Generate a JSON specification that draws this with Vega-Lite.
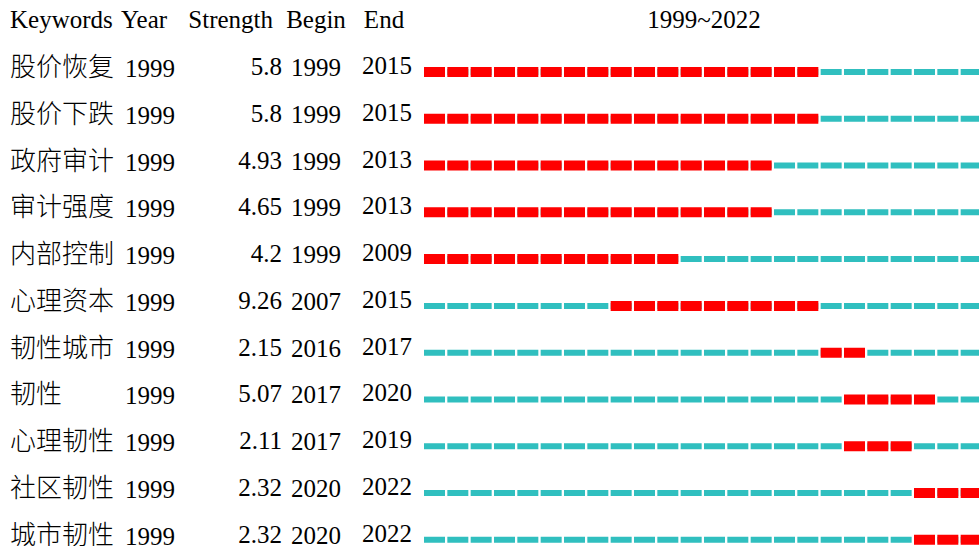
{
  "$schema": "https://vega.github.io/schema/vega-lite/v6.json",
  "padding": 0,
  "spacing": 0,
  "bounds": "flush",
  "background": "white",
  "config": {
    "view": {"stroke": null},
    "text": {"font": "Liberation Serif, Noto Sans CJK SC", "fontSize": 25, "color": "#000000"}
  },
  "datasets": {
    "rows": [
      {"Keywords": "股价恢复", "Year": 1999, "Strength": 5.8, "Begin": 1999, "End": 2015},
      {"Keywords": "股价下跌", "Year": 1999, "Strength": 5.8, "Begin": 1999, "End": 2015},
      {"Keywords": "政府审计", "Year": 1999, "Strength": 4.93, "Begin": 1999, "End": 2013},
      {"Keywords": "审计强度", "Year": 1999, "Strength": 4.65, "Begin": 1999, "End": 2013},
      {"Keywords": "内部控制", "Year": 1999, "Strength": 4.2, "Begin": 1999, "End": 2009},
      {"Keywords": "心理资本", "Year": 1999, "Strength": 9.26, "Begin": 2007, "End": 2015},
      {"Keywords": "韧性城市", "Year": 1999, "Strength": 2.15, "Begin": 2016, "End": 2017},
      {"Keywords": "韧性", "Year": 1999, "Strength": 5.07, "Begin": 2017, "End": 2020},
      {"Keywords": "心理韧性", "Year": 1999, "Strength": 2.11, "Begin": 2017, "End": 2019},
      {"Keywords": "社区韧性", "Year": 1999, "Strength": 2.32, "Begin": 2020, "End": 2022},
      {"Keywords": "城市韧性", "Year": 1999, "Strength": 2.32, "Begin": 2020, "End": 2022}
    ]
  },
  "hconcat": [
    {
      "width": 120, "height": 565,
      "layer": [
        {
          "data": {"values": [{"k": "header", "label": "Keywords"}]},
          "mark": {"type": "text", "align": "left", "baseline": "middle", "dy": -5},
          "encoding": {
            "x": {"value": 10},
            "y": {"field": "k", "type": "nominal", "axis": null, "scale": {"type": "point", "padding": 0.5385, "domain": ["header", "股价恢复", "股价下跌", "政府审计", "审计强度", "内部控制", "心理资本", "韧性城市", "韧性", "心理韧性", "社区韧性", "城市韧性"]}},
            "text": {"field": "label", "type": "nominal"}
          }
        },
        {
          "data": {"name": "rows"},
          "mark": {"type": "text", "align": "left", "baseline": "middle", "dy": -4, "fontSize": 26, "fontWeight": 300},
          "encoding": {
            "x": {"value": 10},
            "y": {"field": "Keywords", "type": "nominal", "axis": null},
            "text": {"field": "Keywords", "type": "nominal"}
          }
        }
      ]
    },
    {
      "width": 70, "height": 565,
      "layer": [
        {
          "data": {"values": [{"k": "header", "label": "Year"}]},
          "mark": {"type": "text", "align": "left", "baseline": "middle", "dy": -5},
          "encoding": {
            "x": {"value": 1},
            "y": {"field": "k", "type": "nominal", "axis": null, "scale": {"type": "point", "padding": 0.5385, "domain": ["header", "股价恢复", "股价下跌", "政府审计", "审计强度", "内部控制", "心理资本", "韧性城市", "韧性", "心理韧性", "社区韧性", "城市韧性"]}},
            "text": {"field": "label", "type": "nominal"}
          }
        },
        {
          "data": {"name": "rows"},
          "mark": {"type": "text", "align": "left", "baseline": "middle", "dy": -3},
          "encoding": {
            "x": {"value": 5},
            "y": {"field": "Keywords", "type": "nominal", "axis": null},
            "text": {"field": "Year", "type": "nominal"}
          }
        }
      ]
    },
    {
      "width": 92, "height": 565,
      "layer": [
        {
          "data": {"values": [{"k": "header", "label": "Strength"}]},
          "mark": {"type": "text", "align": "right", "baseline": "middle", "dy": -5},
          "encoding": {
            "x": {"value": 83},
            "y": {"field": "k", "type": "nominal", "axis": null, "scale": {"type": "point", "padding": 0.5385, "domain": ["header", "股价恢复", "股价下跌", "政府审计", "审计强度", "内部控制", "心理资本", "韧性城市", "韧性", "心理韧性", "社区韧性", "城市韧性"]}},
            "text": {"field": "label", "type": "nominal"}
          }
        },
        {
          "data": {"name": "rows"},
          "mark": {"type": "text", "align": "right", "baseline": "middle", "dy": -5},
          "encoding": {
            "x": {"value": 92},
            "y": {"field": "Keywords", "type": "nominal", "axis": null},
            "text": {"field": "Strength", "type": "nominal"}
          }
        }
      ]
    },
    {
      "width": 68, "height": 565,
      "layer": [
        {
          "data": {"values": [{"k": "header", "label": "Begin"}]},
          "mark": {"type": "text", "align": "center", "baseline": "middle", "dy": -5},
          "encoding": {
            "y": {"field": "k", "type": "nominal", "axis": null, "scale": {"type": "point", "padding": 0.5385, "domain": ["header", "股价恢复", "股价下跌", "政府审计", "审计强度", "内部控制", "心理资本", "韧性城市", "韧性", "心理韧性", "社区韧性", "城市韧性"]}},
            "text": {"field": "label", "type": "nominal"}
          }
        },
        {
          "data": {"name": "rows"},
          "mark": {"type": "text", "align": "center", "baseline": "middle", "dy": -4},
          "encoding": {
            "y": {"field": "Keywords", "type": "nominal", "axis": null},
            "text": {"field": "Begin", "type": "nominal"}
          }
        }
      ]
    },
    {
      "width": 74, "height": 565,
      "layer": [
        {
          "data": {"values": [{"k": "header", "label": "End"}]},
          "mark": {"type": "text", "align": "center", "baseline": "middle", "dy": -5, "dx": -3},
          "encoding": {
            "y": {"field": "k", "type": "nominal", "axis": null, "scale": {"type": "point", "padding": 0.5385, "domain": ["header", "股价恢复", "股价下跌", "政府审计", "审计强度", "内部控制", "心理资本", "韧性城市", "韧性", "心理韧性", "社区韧性", "城市韧性"]}},
            "text": {"field": "label", "type": "nominal"}
          }
        },
        {
          "data": {"name": "rows"},
          "mark": {"type": "text", "align": "center", "baseline": "middle", "dy": -6},
          "encoding": {
            "y": {"field": "Keywords", "type": "nominal", "axis": null},
            "text": {"field": "End", "type": "nominal"}
          }
        }
      ]
    },
    {
      "width": 560, "height": 565,
      "layer": [
        {
          "data": {"values": [{"k": "header", "label": "1999~2022"}]},
          "mark": {"type": "text", "align": "center", "baseline": "middle", "dy": -5},
          "encoding": {
            "y": {"field": "k", "type": "nominal", "axis": null, "scale": {"type": "point", "padding": 0.5385, "domain": ["header", "股价恢复", "股价下跌", "政府审计", "审计强度", "内部控制", "心理资本", "韧性城市", "韧性", "心理韧性", "社区韧性", "城市韧性"]}},
            "text": {"field": "label", "type": "nominal"}
          }
        },
        {
          "data": {"name": "rows"},
          "mark": {"type": "rule", "color": "#30bfbf", "strokeWidth": 6, "strokeDash": [21, 2.3333], "x2Offset": 23.3333},
          "encoding": {
            "x": {"field": "Year", "type": "quantitative", "axis": null, "scale": {"domain": [1999, 2023], "zero": false, "nice": false}},
            "x2": {"datum": 2022},
            "y": {"field": "Keywords", "type": "nominal", "axis": null}
          }
        },
        {
          "data": {"name": "rows"},
          "mark": {"type": "rule", "color": "#ff0000", "strokeWidth": 10, "strokeDash": [21, 2.3333], "x2Offset": 23.3333},
          "encoding": {
            "x": {"field": "Begin", "type": "quantitative", "axis": null},
            "x2": {"field": "End"},
            "y": {"field": "Keywords", "type": "nominal", "axis": null}
          }
        }
      ]
    }
  ]
}
